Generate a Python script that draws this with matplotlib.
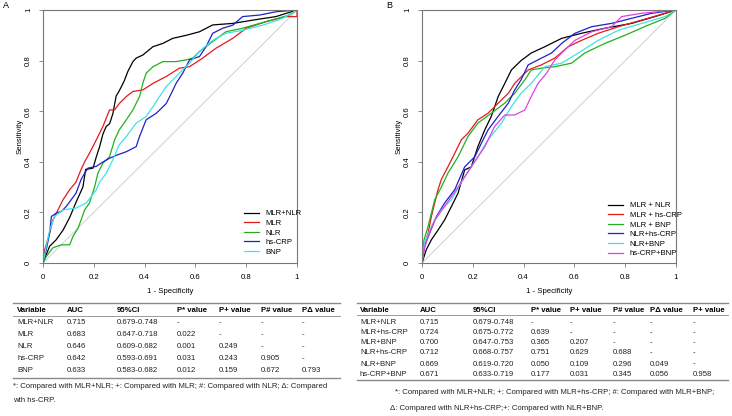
import matplotlib
matplotlib.use("Agg")
import matplotlib.pyplot as plt

plt.rcParams['font.family'] = ['Liberation Sans', 'DejaVu Sans']

W, H = 732, 416

# ---- courbes ROC (1 - specificite, sensibilite) ----
a_fpr_mlrnlr = [0, 0.026, 0.052, 0.079, 0.105, 0.13, 0.157, 0.168, 0.197, 0.21, 0.223, 0.236, 0.249, 0.262, 0.275, 0.288, 0.30, 0.32, 0.334, 0.354, 0.367, 0.393, 0.433, 0.472, 0.511, 0.564, 0.616, 0.668, 0.747, 0.826, 0.917, 1.0]
a_tpr_mlrnlr = [0, 0.066, 0.092, 0.13, 0.18, 0.24, 0.30, 0.37, 0.375, 0.42, 0.46, 0.51, 0.54, 0.55, 0.59, 0.66, 0.68, 0.72, 0.757, 0.796, 0.81, 0.822, 0.855, 0.868, 0.888, 0.90, 0.914, 0.941, 0.947, 0.96, 0.974, 1.0]

a_fpr_mlr = [0, 0.007, 0.026, 0.039, 0.059, 0.079, 0.105, 0.13, 0.15, 0.164, 0.183, 0.21, 0.236, 0.262, 0.282, 0.30, 0.328, 0.354, 0.393, 0.433, 0.485, 0.537, 0.577, 0.629, 0.681, 0.747, 0.80, 0.878, 0.957, 1.0, 1.0]
a_tpr_mlr = [0, 0.053, 0.118, 0.17, 0.21, 0.25, 0.29, 0.32, 0.37, 0.40, 0.434, 0.487, 0.54, 0.605, 0.605, 0.63, 0.658, 0.678, 0.684, 0.71, 0.737, 0.77, 0.776, 0.81, 0.849, 0.888, 0.928, 0.954, 0.974, 0.974, 1.0]

a_fpr_nlr = [0, 0.013, 0.039, 0.072, 0.105, 0.118, 0.138, 0.15, 0.164, 0.183, 0.203, 0.216, 0.236, 0.262, 0.282, 0.30, 0.328, 0.354, 0.38, 0.393, 0.406, 0.433, 0.472, 0.524, 0.564, 0.59, 0.616, 0.668, 0.72, 0.786, 0.878, 0.97, 1.0]
a_tpr_nlr = [0, 0.026, 0.06, 0.072, 0.072, 0.105, 0.138, 0.17, 0.21, 0.237, 0.30, 0.355, 0.395, 0.42, 0.487, 0.526, 0.566, 0.605, 0.658, 0.71, 0.75, 0.776, 0.796, 0.796, 0.803, 0.81, 0.836, 0.875, 0.914, 0.928, 0.954, 0.98, 1.0]

a_fpr_crp = [0, 0.013, 0.026, 0.033, 0.052, 0.072, 0.092, 0.111, 0.13, 0.15, 0.164, 0.177, 0.21, 0.229, 0.262, 0.295, 0.328, 0.367, 0.38, 0.406, 0.446, 0.485, 0.505, 0.524, 0.55, 0.577, 0.616, 0.642, 0.668, 0.708, 0.747, 0.786, 0.852, 0.917, 1.0]
a_tpr_crp = [0, 0.053, 0.118, 0.184, 0.197, 0.204, 0.224, 0.25, 0.276, 0.33, 0.355, 0.375, 0.382, 0.395, 0.414, 0.428, 0.44, 0.46, 0.50, 0.566, 0.592, 0.63, 0.67, 0.71, 0.75, 0.803, 0.816, 0.855, 0.908, 0.928, 0.94, 0.974, 0.98, 0.993, 1.0]

a_fpr_bnp = [0, 0.013, 0.026, 0.046, 0.079, 0.13, 0.17, 0.19, 0.21, 0.223, 0.249, 0.275, 0.30, 0.328, 0.367, 0.406, 0.433, 0.459, 0.485, 0.511, 0.55, 0.577, 0.616, 0.668, 0.72, 0.786, 0.865, 0.943, 1.0]
a_tpr_bnp = [0, 0.066, 0.13, 0.184, 0.21, 0.217, 0.237, 0.263, 0.29, 0.32, 0.355, 0.408, 0.467, 0.50, 0.553, 0.579, 0.618, 0.658, 0.697, 0.724, 0.763, 0.79, 0.836, 0.88, 0.908, 0.92, 0.94, 0.967, 1.0]

b_fpr_mlrnlr = [0, 0.017, 0.037, 0.063, 0.089, 0.116, 0.142, 0.168, 0.194, 0.22, 0.247, 0.273, 0.30, 0.326, 0.352, 0.39, 0.43, 0.484, 0.55, 0.628, 0.72, 0.825, 0.917, 1.0]
b_tpr_mlrnlr = [0, 0.053, 0.092, 0.13, 0.17, 0.224, 0.276, 0.368, 0.38, 0.46, 0.526, 0.58, 0.658, 0.71, 0.763, 0.80, 0.83, 0.855, 0.888, 0.908, 0.928, 0.947, 0.974, 1.0]

b_fpr_mlrcrp = [0, 0.008, 0.024, 0.037, 0.063, 0.076, 0.102, 0.129, 0.155, 0.181, 0.22, 0.26, 0.30, 0.34, 0.365, 0.418, 0.47, 0.523, 0.576, 0.628, 0.694, 0.773, 0.865, 0.957, 1.0]
b_tpr_mlrcrp = [0, 0.066, 0.118, 0.184, 0.29, 0.33, 0.38, 0.434, 0.487, 0.513, 0.566, 0.592, 0.632, 0.671, 0.71, 0.763, 0.783, 0.81, 0.855, 0.88, 0.908, 0.934, 0.96, 0.987, 1.0]

b_fpr_mlrbnp = [0, 0.008, 0.024, 0.05, 0.076, 0.102, 0.142, 0.181, 0.22, 0.273, 0.326, 0.365, 0.405, 0.43, 0.47, 0.523, 0.589, 0.641, 0.72, 0.799, 0.89, 0.957, 1.0]
b_tpr_mlrbnp = [0, 0.092, 0.145, 0.25, 0.30, 0.355, 0.42, 0.50, 0.553, 0.592, 0.632, 0.671, 0.724, 0.763, 0.77, 0.776, 0.79, 0.83, 0.868, 0.90, 0.94, 0.967, 1.0]

b_fpr_nlrcrp = [0, 0.01, 0.03, 0.057, 0.089, 0.129, 0.168, 0.208, 0.234, 0.26, 0.30, 0.34, 0.365, 0.39, 0.418, 0.457, 0.51, 0.55, 0.602, 0.668, 0.746, 0.825, 0.904, 1.0]
b_tpr_nlrcrp = [0, 0.066, 0.118, 0.184, 0.237, 0.29, 0.38, 0.42, 0.474, 0.526, 0.58, 0.632, 0.684, 0.724, 0.783, 0.803, 0.83, 0.868, 0.908, 0.934, 0.947, 0.967, 0.987, 1.0]

b_fpr_nlrbnp = [0, 0.01, 0.037, 0.076, 0.116, 0.168, 0.22, 0.26, 0.313, 0.352, 0.39, 0.43, 0.484, 0.55, 0.615, 0.694, 0.773, 0.865, 0.957, 1.0]
b_tpr_nlrbnp = [0, 0.079, 0.145, 0.21, 0.25, 0.342, 0.42, 0.487, 0.553, 0.618, 0.671, 0.71, 0.776, 0.79, 0.83, 0.88, 0.92, 0.947, 0.974, 1.0]

b_fpr_crpbnp = [0, 0.008, 0.024, 0.05, 0.089, 0.142, 0.194, 0.247, 0.286, 0.326, 0.365, 0.405, 0.43, 0.457, 0.49, 0.523, 0.562, 0.602, 0.668, 0.746, 0.786, 0.865, 1.0]
b_tpr_crpbnp = [0, 0.053, 0.105, 0.17, 0.224, 0.30, 0.38, 0.46, 0.54, 0.585, 0.585, 0.605, 0.658, 0.71, 0.75, 0.803, 0.842, 0.88, 0.914, 0.934, 0.974, 0.987, 1.0]

labels_a = ["MLR+NLR", "MLR", "NLR", "hs-CRP", "BNP"]
labels_b = ["MLR + NLR", "MLR + hs-CRP", "MLR + BNP", "NLR+hs-CRP", "NLR+BNP", "hs-CRP+BNP"]

# ---- tableaux ----
headers_a = ["Variable", "AUC", "95%CI", "P* value", "P+ value", "P# value", "P\u0394 value"]
rows_a = [
    ["MLR+NLR", "0.715", "0.679-0.748", "-", "-", "-", "-"],
    ["MLR", "0.683", "0.647-0.718", "0.022", "-", "-", "-"],
    ["NLR", "0.646", "0.609-0.682", "0.001", "0.249", "-", "-"],
    ["hs-CRP", "0.642", "0.593-0.691", "0.031", "0.243", "0.905", "-"],
    ["BNP", "0.633", "0.583-0.682", "0.012", "0.159", "0.672", "0.793"],
]
notes_a = ["*: Compared with MLR+NLR; +: Compared with MLR; #: Compared with NLR; \u0394: Compared",
           "wth hs-CRP."]

headers_b = ["Variable", "AUC", "95%CI", "P* value", "P+ value", "P# value", "P\u0394 value", "P+ value"]
rows_b = [
    ["MLR+NLR", "0.715", "0.679-0.748", "-", "-", "-", "-", "-"],
    ["MLR+hs-CRP", "0.724", "0.675-0.772", "0.639", "-", "-", "-", "-"],
    ["MLR+BNP", "0.700", "0.647-0.753", "0.365", "0.207", "-", "-", "-"],
    ["NLR+hs-CRP", "0.712", "0.668-0.757", "0.751", "0.629", "0.688", "-", "-"],
    ["NLR+BNP", "0.669", "0.619-0.720", "0.050", "0.109", "0.296", "0.049", "-"],
    ["hs-CRP+BNP", "0.671", "0.633-0.719", "0.177", "0.031", "0.345", "0.056", "0.958"],
]
notes_b = ["*: Compared with MLR+NLR; +: Compared with MLR+hs-CRP; #: Compared with MLR+BNP;",
           "\u0394: Compared with NLR+hs-CRP;+: Compared with NLR+BNP."]

col_a = ["black", "#E41A1C", "#22B022", "#1F1FCC", "#3FE3E3"]
col_b = ["black", "#E41A1C", "#22B022", "#1F1FCC", "#3FE3E3", "#E23FE2"]

fs = 5.6
grey = "#777777"

fig = plt.figure(figsize=(W / 100, H / 100), dpi=100)


def axes_px(x0, y0, x1, y1):
    return fig.add_axes([x0 / W, 1 - y1 / H, (x1 - x0) / W, (y1 - y0) / H])


def roc_panel(ax, curves, labels, colors, leg_xy):
    ax.plot([0, 1], [0, 1], color="#C8C8C8", lw=0.6)
    handles = []
    for (fx, ty), lab, c in zip(curves, labels, colors):
        h, = ax.plot(fx, ty, color=c, lw=0.9, label=lab)
        handles.append(h)
    ax.set_xlim(0, 1)
    ax.set_ylim(0, 1)
    ax.set_xticks([0, 0.2, 0.4, 0.6, 0.8, 1])
    ax.set_yticks([0, 0.2, 0.4, 0.6, 0.8, 1])
    ax.set_xticklabels(["0", "0.2", "0.4", "0.6", "0.8", "1"])
    ax.set_yticklabels(["0", "0.2", "0.4", "0.6", "0.8", "1"], rotation=90, va="center")
    for s in ax.spines.values():
        s.set_color(grey)
        s.set_linewidth(0.8)
    ax.tick_params(length=3, width=0.6, color=grey, labelsize=fs, pad=5)
    ax.set_xlabel("1 - Specificity", fontsize=fs, labelpad=5)
    ax.set_ylabel("Sensitivity", fontsize=fs, labelpad=1)
    ax.legend(handles=handles, loc="upper left", bbox_to_anchor=(leg_xy[0] / W, 1 - leg_xy[1] / H),
              bbox_transform=fig.transFigure, frameon=False, fontsize=fs,
              handlelength=2.0, handletextpad=0.8, labelspacing=0.28, borderpad=0)


ax_a = axes_px(43, 10, 297, 263)
roc_panel(ax_a, [(a_fpr_mlrnlr, a_tpr_mlrnlr), (a_fpr_mlr, a_tpr_mlr), (a_fpr_nlr, a_tpr_nlr),
                 (a_fpr_crp, a_tpr_crp), (a_fpr_bnp, a_tpr_bnp)], labels_a, col_a, (240, 206))

ax_b = axes_px(422, 10, 676, 263)
roc_panel(ax_b, [(b_fpr_mlrnlr, b_tpr_mlrnlr), (b_fpr_mlrcrp, b_tpr_mlrcrp), (b_fpr_mlrbnp, b_tpr_mlrbnp),
                 (b_fpr_nlrcrp, b_tpr_nlrcrp), (b_fpr_nlrbnp, b_tpr_nlrbnp), (b_fpr_crpbnp, b_tpr_crpbnp)],
          labels_b, col_b, (604, 198))

fig.text(3 / W, 1 - 5 / H, "A", fontsize=6.5, va="center", ha="left")
fig.text(386 / W, 1 - 5 / H, "B", fontsize=6.5, va="center", ha="left")

# couche pour les tableaux, en pixels
ov = fig.add_axes([0, 0, 1, 1])
ov.set_xlim(0, W)
ov.set_ylim(H, 0)
ov.axis("off")


def draw_table(cols_x, head_y, rows_y, rule_ys, x_range, headers, rows, notes, notes_xy):
    ov.plot(x_range, [rule_ys[0]] * 2, color="#8a8a8a", lw=1.0)
    ov.plot(x_range, [rule_ys[1]] * 2, color="#8a8a8a", lw=0.6)
    ov.plot(x_range, [rule_ys[2]] * 2, color="#8a8a8a", lw=1.0)
    for x, h in zip(cols_x, headers):
        ov.text(x, head_y, h, fontsize=fs, fontweight="bold", va="center", ha="left")
    for y, r in zip(rows_y, rows):
        for x, v in zip(cols_x, r):
            ov.text(x, y, v, fontsize=fs, va="center", ha="left", color="#222222")
    for (x, y), n in zip(notes_xy, notes):
        ov.text(x, y, n, fontsize=fs, va="center", ha="left", color="#222222")


draw_table([17, 67, 117, 177, 219, 261, 302], 311, [323, 335, 347, 359, 371], [303, 316, 378],
           [13, 340], headers_a, rows_a, notes_a, [(13, 387), (13, 400)])

draw_table([360, 420, 473, 531, 570, 613, 650, 693], 310, [323, 333, 343, 353, 364, 374], [303, 315, 380],
           [357, 728], headers_b, rows_b, notes_b, [(395, 392), (390, 408)])

fig.savefig("out.png", dpi=100)
